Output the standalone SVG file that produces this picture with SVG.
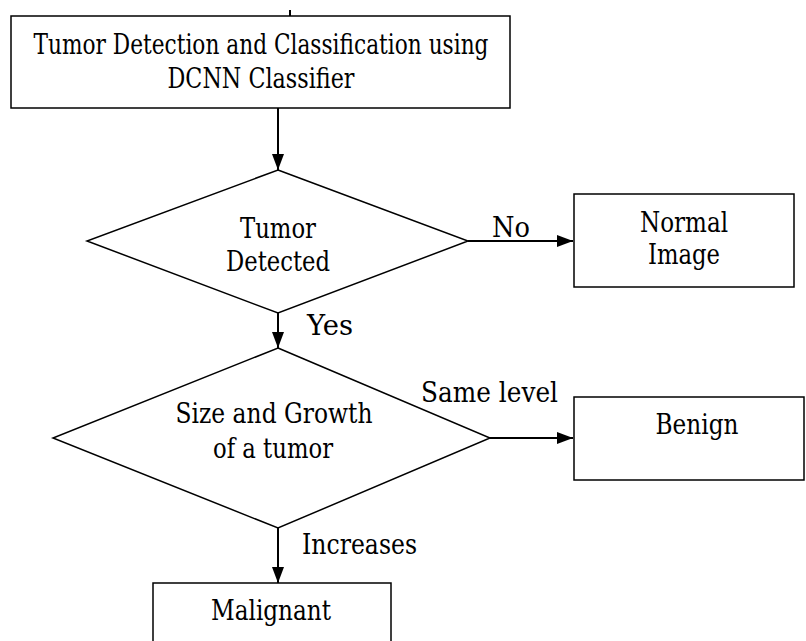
<svg xmlns="http://www.w3.org/2000/svg" width="806" height="641" viewBox="0 0 806 641">
<defs>
<style>
.n{fill:#fff;stroke:#000;stroke-width:1.5}
.c{stroke:#000;stroke-width:2;fill:none}
</style>
<marker id="ah" markerWidth="16" markerHeight="14" refX="16" refY="7" orient="auto" markerUnits="userSpaceOnUse">
<path d="M0,1 L16,7 L0,13 Z" fill="#000"/>
</marker>
</defs>
<rect width="806" height="641" fill="#fff"/>
<g font-family="DejaVu Serif, serif" font-size="27" fill="#000">
<g id="connectors">
<line class="c" x1="290" y1="10" x2="290" y2="16"/>
<line class="c" x1="278" y1="108" x2="278" y2="170" marker-end="url(#ah)"/>
<line class="c" x1="468" y1="241" x2="573" y2="241" marker-end="url(#ah)"/>
<line class="c" x1="278" y1="313" x2="278" y2="348" marker-end="url(#ah)"/>
<line class="c" x1="490" y1="438" x2="573" y2="438" marker-end="url(#ah)"/>
<line class="c" x1="278" y1="528" x2="278" y2="583" marker-end="url(#ah)"/>
<text x="492" y="237" textLength="38" lengthAdjust="spacingAndGlyphs">No</text>
<text x="307" y="335" textLength="46" lengthAdjust="spacingAndGlyphs">Yes</text>
<text x="421" y="402" textLength="137" lengthAdjust="spacingAndGlyphs">Same level</text>
<text x="302" y="554" textLength="115" lengthAdjust="spacingAndGlyphs">Increases</text>
</g>
<g id="start" text-anchor="middle">
<rect class="n" x="11" y="16" width="499" height="92"/>
<text x="261" y="54" textLength="455" lengthAdjust="spacingAndGlyphs">Tumor Detection and Classification using</text>
<text x="261" y="88" textLength="187" lengthAdjust="spacingAndGlyphs">DCNN Classifier</text>
</g>
<g id="detected" text-anchor="middle">
<polygon class="n" points="278,170 468,241 278,313 87,241"/>
<text x="278" y="238" textLength="76" lengthAdjust="spacingAndGlyphs">Tumor</text>
<text x="278" y="271" textLength="104" lengthAdjust="spacingAndGlyphs">Detected</text>
</g>
<g id="normal" text-anchor="middle">
<rect class="n" x="574" y="194" width="220" height="93"/>
<text x="684" y="232" textLength="88" lengthAdjust="spacingAndGlyphs">Normal</text>
<text x="684" y="264" textLength="72" lengthAdjust="spacingAndGlyphs">Image</text>
</g>
<g id="size" text-anchor="middle">
<polygon class="n" points="278,348 490,438 278,528 53,438"/>
<text x="274" y="423" textLength="197" lengthAdjust="spacingAndGlyphs">Size and Growth</text>
<text x="273" y="458" textLength="120" lengthAdjust="spacingAndGlyphs">of a tumor</text>
</g>
<g id="benign" text-anchor="middle">
<rect class="n" x="574" y="397" width="230" height="83"/>
<text x="697" y="434" textLength="83" lengthAdjust="spacingAndGlyphs">Benign</text>
</g>
<g id="malignant" text-anchor="middle">
<rect class="n" x="153" y="583" width="238" height="70"/>
<text x="271" y="620" textLength="120" lengthAdjust="spacingAndGlyphs">Malignant</text>
</g>
</g>
</svg>
